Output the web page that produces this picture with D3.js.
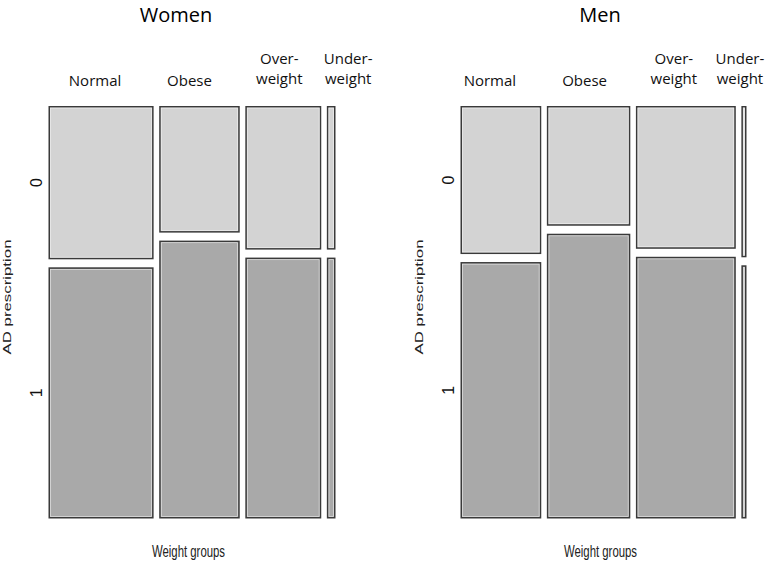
<!DOCTYPE html>
<html>
<head>
<meta charset="utf-8">
<script src="https://cdn.jsdelivr.net/npm/d3@7"></script>
<style>
  body { margin: 0; background: #fff; }
  svg { display: block; }
</style>
</head>
<body>
<div id="chart"></div>
<script>
// weight groups (columns), in plotting order
const groups = ["Normal", "Obese", "Overweight", "Underweight"];
const groupLabels = [["Normal"], ["Obese"], ["Over-", "weight"], ["Under-", "weight"]];
const adLevels = ["0", "1"];

// share of each weight group in the panel (column widths)
const womenGroupShare = [0.389, 0.298, 0.281, 0.032];
const menGroupShare = [0.300, 0.310, 0.371, 0.019];

// share with AD prescription = 0 within each weight group
const womenNoAD = [0.379, 0.313, 0.355, 0.355];
const menNoAD = [0.366, 0.296, 0.353, 0.374];

const width = 768, height = 562;
const plotTop = 106, plotBottom = 518.5;
const gapX = 5.6, gapY = 8;

const svg = d3.select("#chart")
    .append("svg")
    .attr("width", width)
    .attr("height", height);

const panels = [
    { title: "Women", share: womenGroupShare, noAD: womenNoAD, left: 48.5, right: 335.5, titleX: 176, labelDx: [-6, -10, -4, 17] },
    { title: "Men", share: menGroupShare, noAD: menNoAD, left: 460.5, right: 746.5, titleX: 600, labelDx: [-11, -4, -12, -4] }
];

panels.forEach(function(p) {
    const g = svg.append("g");

    // x scale on cumulative share, gaps added afterwards
    const x = d3.scaleLinear()
        .domain([0, 1])
        .range([p.left, p.right - gapX * (groups.length - 1)]);
    const y = d3.scaleLinear()
        .domain([0, 1])
        .range([plotTop, plotBottom - gapY]);

    const cum = d3.cumsum([0].concat(p.share));
    const cols = groups.map((name, i) => ({
        name: name,
        i: i,
        x0: x(cum[i]) + i * gapX,
        x1: x(cum[i + 1]) + i * gapX,
        no: p.noAD[i]
    }));

    const cells = [];
    cols.forEach(c => {
        cells.push({ col: c, level: adLevels[0], y0: y(0), y1: y(c.no) });
        cells.push({ col: c, level: adLevels[1], y0: y(c.no) + gapY, y1: y(1) + gapY });
    });

    // cells: dark outline with a faint inner highlight
    g.selectAll(".cell")
        .data(cells)
        .enter().append("rect")
        .attr("class", "cell")
        .attr("x", d => d.col.x0 + 0.75)
        .attr("y", d => d.y0 + 0.75)
        .attr("width", d => Math.max(0, d.col.x1 - d.col.x0 - 1.5))
        .attr("height", d => d.y1 - d.y0 - 1.5)
        .style("fill", d => d.level === "0" ? "#d3d3d3" : "#a9a9a9")
        .style("stroke", "#3a3a3a")
        .style("stroke-width", 1.5);

    g.selectAll(".hl")
        .data(cells)
        .enter().append("rect")
        .attr("class", "hl")
        .attr("x", d => d.col.x0 + 2.1)
        .attr("y", d => d.y0 + 2.1)
        .attr("width", d => Math.max(0, d.col.x1 - d.col.x0 - 4.2))
        .attr("height", d => d.y1 - d.y0 - 4.2)
        .style("fill", "none")
        .style("stroke", "#f2f2f2")
        .style("stroke-opacity", 0.8)
        .style("stroke-width", 0.7);

    // column labels
    const lab = g.selectAll(".collab")
        .data(cols)
        .enter().append("text")
        .attr("class", "collab")
        .attr("text-anchor", "middle")
        .style("font-family", "'Open Sans', sans-serif")
        .style("font-size", "15px")
        .style("fill", "#111");
    lab.each(function(c) {
        const lines = groupLabels[c.i];
        const cx = (c.x0 + c.x1) / 2 + p.labelDx[c.i];
        const y0 = lines.length === 1 ? 86 : 64;
        d3.select(this).selectAll("tspan")
            .data(lines)
            .enter().append("tspan")
            .attr("x", cx)
            .attr("y", (t, k) => y0 + k * 20)
            .text(t => t);
    });

    // AD level labels, centred on the first column's cells
    const first = cells.filter(d => d.col.i === 0);
    g.selectAll(".lvl")
        .data(first)
        .enter().append("text")
        .attr("class", "lvl")
        .attr("transform", d => `translate(${p.left - 6.5},${(d.y0 + d.y1) / 2}) rotate(-90)`)
        .attr("text-anchor", "middle")
        .style("font-family", "'Liberation Sans', Arial, sans-serif")
        .style("font-size", "16px")
        .style("fill", "#111")
        .text(d => d.level);

    // axis titles
    g.append("text")
        .attr("transform", `translate(${p.left - 37.5},${297}) rotate(-90)`)
        .attr("text-anchor", "middle")
        .attr("textLength", 115)
        .attr("lengthAdjust", "spacingAndGlyphs")
        .style("font-family", "'Liberation Sans', Arial, sans-serif")
        .style("font-size", "11px")
        .style("fill", "#222")
        .text("AD prescription");

    g.append("text")
        .attr("x", p.left + 140)
        .attr("y", 556.5)
        .attr("text-anchor", "middle")
        .attr("textLength", 73)
        .attr("lengthAdjust", "spacingAndGlyphs")
        .style("font-family", "'Liberation Sans', Arial, sans-serif")
        .style("font-size", "16px")
        .style("fill", "#222")
        .text("Weight groups");

    g.append("text")
        .attr("x", p.titleX)
        .attr("y", 21.5)
        .attr("text-anchor", "middle")
        .style("font-family", "'Open Sans', sans-serif")
        .style("font-size", "20px")
        .style("fill", "#000")
        .text(p.title);
});
</script>
</body>
</html>
